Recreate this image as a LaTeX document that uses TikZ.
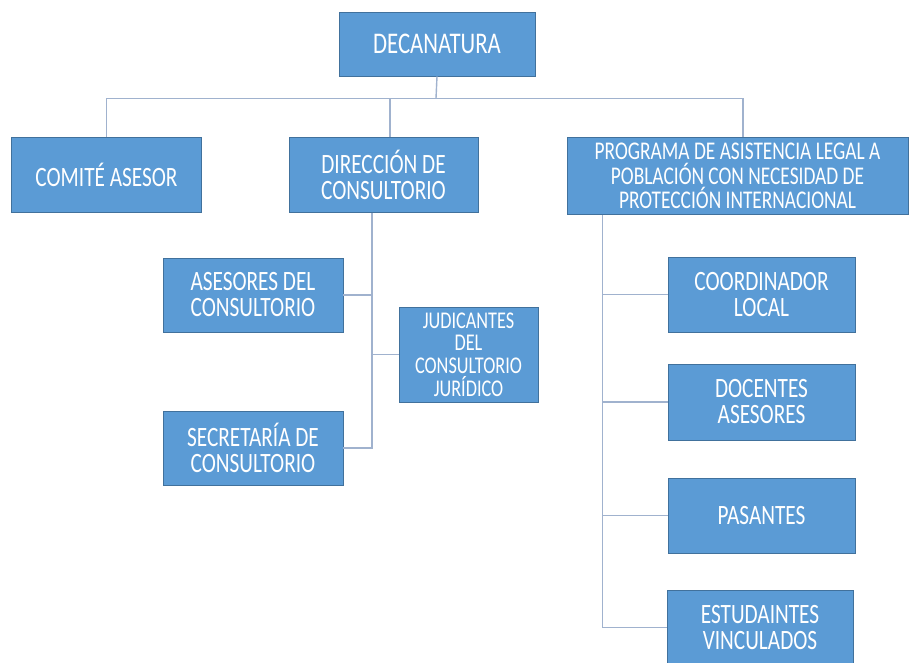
\documentclass[tikz,border=0pt]{standalone}
\usepackage{fontspec}
\setmainfont{Carlito}[FakeStretch=0.76]
\definecolor{orgblue}{RGB}{91, 155, 213}
\definecolor{orgedge}{RGB}{65, 113, 156}
\definecolor{orgline}{RGB}{160, 178, 206}
\usepackage{tikz}
\usetikzlibrary{positioning, calc}

\begin{document}
\begin{tikzpicture}[x=1pt, y=-1pt,
    unit/.style={draw=orgedge, fill=orgblue, text=white, align=center, inner sep=2pt,
      line width=0.8pt, font=\fontsize{28}{26}\selectfont},
    link/.style={draw=orgline, line width=1.4pt}]
  \useasboundingbox (0,0) rectangle (909,662);

  % Top level
  \node[unit, minimum width=196pt, minimum height=64pt, font=\fontsize{30}{28}\selectfont] (deca) at (437,44) {DECANATURA};

  % Second level
  \node[unit, minimum width=190pt, minimum height=75pt] (comite) at (106.5,175) {COMITÉ ASESOR};
  \node[unit, minimum width=189pt, minimum height=75pt] (direccion) at (383.5,175) {DIRECCIÓN DE\\CONSULTORIO};
  \node[unit, minimum width=341pt, minimum height=77pt, inner sep=1pt, font=\fontsize{25.5}{24.5}\selectfont] (programa) at (737.5,176) {PROGRAMA DE ASISTENCIA LEGAL A\\POBLACIÓN CON NECESIDAD DE\\PROTECCIÓN INTERNACIONAL};

  % Consultorio
  \node[unit, minimum width=180pt, minimum height=74pt] (asesores) at (253,295) {ASESORES DEL\\CONSULTORIO};
  \node[unit, minimum width=139pt, minimum height=95pt, font=\fontsize{24}{22.7}\selectfont] (judicantes) at (468.5,354.5) {JUDICANTES\\DEL\\CONSULTORIO\\JURÍDICO};
  \node[unit, minimum width=180pt, minimum height=74pt] (secretaria) at (253,448) {SECRETARÍA DE\\CONSULTORIO};

  % Programa
  \node[unit, minimum width=187pt, minimum height=75pt] (coordinador) at (761.5,294.5) {COORDINADOR\\LOCAL};
  \node[unit, minimum width=187pt, minimum height=76pt] (docentes) at (761.5,402) {DOCENTES\\ASESORES};
  \node[unit, minimum width=187pt, minimum height=75pt] (pasantes) at (761.5,515.5) {PASANTES};
  \node[unit, minimum width=186pt, minimum height=75pt] (estudiantes) at (760,627.5) {ESTUDAINTES\\VINCULADOS};

  % Connectors
  \coordinate (bus) at ($(deca.south)+(-1,22)$);
  \coordinate (dtop) at ([xshift=6.5pt]direccion.north);
  \coordinate (ptop) at ([xshift=5.5pt]programa.north);
  \draw[link] (deca.south) -- (bus);
  \draw[link] (comite.north) |- (bus) -| (ptop);
  \draw[link] (dtop) -- (dtop |- bus);

  \coordinate (dtrunk) at ([xshift=-11.5pt]direccion.south);
  \draw[link] (dtrunk) |- (secretaria.east);
  \draw[link] (asesores.east) -- (asesores.east -| dtrunk);
  \draw[link] (judicantes.west) -- (judicantes.west -| dtrunk);

  \coordinate (ptrunk) at ([xshift=36pt]programa.south west);
  \draw[link] (ptrunk) |- (estudiantes.west);
  \draw[link] (coordinador.west) -- (coordinador.west -| ptrunk);
  \draw[link] (docentes.west) -- (docentes.west -| ptrunk);
  \draw[link] (pasantes.west) -- (pasantes.west -| ptrunk);
\end{tikzpicture}
\end{document}
